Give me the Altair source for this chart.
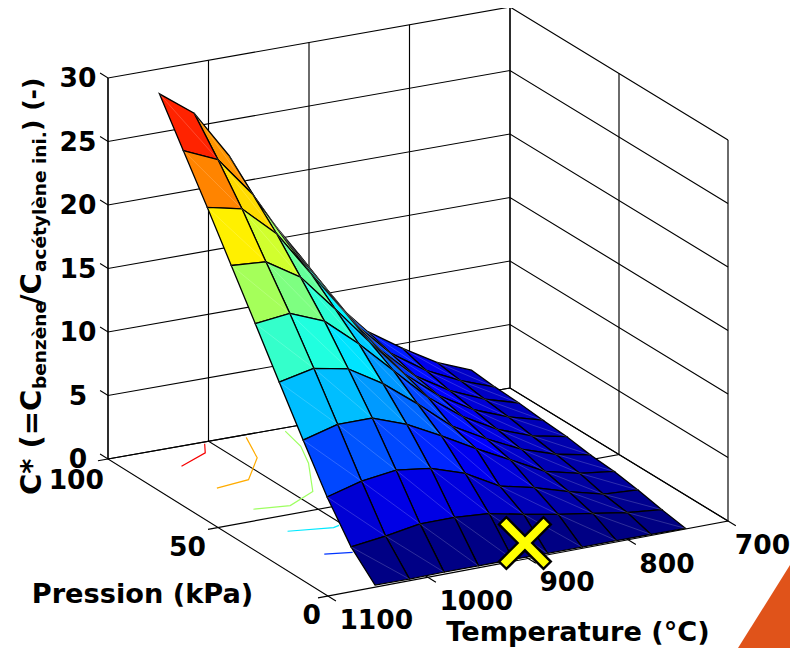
import altair as alt

# Grid of the surface
T_VALUES = [1053, 1018.5, 984, 949.5, 915, 880.5, 846, 811.5, 777, 742.5]
P_VALUES = [0, 10.9, 21.8, 32.7, 43.6, 54.5, 65.4, 76.3, 87.2, 98.1]
# C* per pressure row (index j) along temperature (index i)
C_P0 = [0.17, 0.13, 0.17, 0.15, 0.15, 0.12, 0.1, 0.1, 0.08, 0.05]
C_P1 = [2.0, 2.35, 2.8, 2.8, 2.6, 2.03, 1.52, 1.09, 0.65, 0.38]
C_P2 = [4.76, 5.5, 5.86, 5.5, 4.6, 3.1, 2.47, 1.65, 0.95, 0.78]
C_P3 = [8.07, 8.8, 8.8, 7.8, 6.4, 4.9, 3.5, 2.1, 1.45, 1.1]
C_P4 = [11.46, 12.05, 11.5, 9.85, 7.76, 5.5, 4.0, 2.7, 1.8, 1.25]
C_P5 = [14.9, 15.2, 14.1, 11.8, 9.2, 6.6, 4.6, 3.1, 2.1, 1.55]
C_P6 = [18.3, 18.1, 16.4, 13.4, 10.3, 7.3, 5.1, 3.5, 2.45, 1.7]
C_P7 = [21.7, 21.1, 18.65, 15.0, 11.4, 8.0, 5.5, 3.85, 2.7, 1.9]
C_P8 = [25.0, 23.8, 20.6, 16.3, 12.6, 8.8, 6.1, 4.3, 3.0, 2.0]
C_P9 = [28.3, 26.3, 22.5, 17.6, 13.8, 9.6, 6.7, 4.9, 3.3, 2.2]
C_ROWS = [C_P0, C_P1, C_P2, C_P3, C_P4, C_P5, C_P6, C_P7, C_P8, C_P9]

# Floor contours: level, temperatures, pressures
LEVELS = [25, 20, 15, 10, 5]
CONTOUR_T = [
    [1052, 1017, 1006],
    [1052, 1017, 983, 966],
    [1050, 1017, 982, 950, 935, 928],
    [1051, 1011, 1004],
    [1051, 1027],
]
CONTOUR_P = [
    [88.5, 93.7, 99],
    [72.4, 74, 85.6, 98.4],
    [56.7, 55, 60.7, 77.3, 87.7, 98],
    [40.7, 38, 38.7],
    [24, 22],
]

T_TICKS = [1100, 1000, 900, 800, 700]
P_TICKS = [0, 50, 100]
C_TICKS = [0, 5, 10, 15, 20, 25, 30]
MARKER = (900, 1.4, 1.07)

C_MAX = 28.3
JET_POS = [0, 0.125, 0.375, 0.625, 0.875, 1]
JET_COL = ["#000080", "#0000ff", "#00ffff", "#ffff00", "#ff0000", "#800000"]
jet = alt.Scale(domain=[p * C_MAX for p in JET_POS], range=JET_COL, interpolate="rgb")


def project(t, p, c=0):
    """3D view: (temperature, pressure, C*) to drawing units."""
    u = (1100 - t) / 400
    v = p / 100
    x = 320 + 400 * u - 220 * v + 2 * u * v
    y = 588 - 75 * u - 137 * v + 4 * u * v - (381 / 30) * c
    return [x, y]


def feature(kind, coords, **props):
    return {"type": "Feature", "properties": props,
            "geometry": {"type": kind, "coordinates": coords}}


def line(*pts):
    return feature("LineString", [project(*q) for q in pts])


PROJ = dict(type="identity", scale=1, translate=[0, 0])

# Box, walls and floor
grid = []
for c in C_TICKS:
    grid.append(line((1100, 103.6, c), (1100, 100, c), (700, 100, c), (700, 0, c)))
for t in T_TICKS:
    grid.append(line((t, -3.6, 0), (t, 100, 0), (t, 100, 30)))
for p in P_TICKS:
    grid.append(line((1110, p, 0), (700, p, 0), (700, p, 30)))
grid.append(line((1100, 100, 0), (1100, 100, 30)))

contours = []
for lev, ts, ps in zip(LEVELS, CONTOUR_T, CONTOUR_P):
    contours.append(feature("LineString", [project(t, p) for t, p in zip(ts, ps)], level=lev))

cells, diagonals = [], []
for j in range(8, -1, -1):
    for i in range(8, -1, -1):
        a = project(T_VALUES[i], P_VALUES[j], C_ROWS[j][i])
        b = project(T_VALUES[i + 1], P_VALUES[j], C_ROWS[j][i + 1])
        d = project(T_VALUES[i + 1], P_VALUES[j + 1], C_ROWS[j + 1][i + 1])
        e = project(T_VALUES[i], P_VALUES[j + 1], C_ROWS[j + 1][i])
        cells.append(feature("Polygon", [[a, b, d, e, a]], c=C_ROWS[j][i + 1]))
        diagonals.append(feature("LineString", [e, b]))

grid_layer = alt.Chart(alt.Data(values=grid)).mark_geoshape(
    filled=False, stroke="black", strokeWidth=1.15).project(**PROJ)
contour_layer = alt.Chart(alt.Data(values=contours)).mark_geoshape(
    filled=False, strokeWidth=1.2).encode(
    stroke=alt.Stroke("properties.level:Q", scale=jet, legend=None)).project(**PROJ)
surface_layer = alt.Chart(alt.Data(values=cells)).mark_geoshape(
    stroke="black", strokeWidth=1.3).encode(
    fill=alt.Fill("properties.c:Q", scale=jet, legend=None)).project(**PROJ)
diag_layer = alt.Chart(alt.Data(values=diagonals)).mark_geoshape(
    filled=False, stroke="white", strokeWidth=0.6, opacity=0.3).project(**PROJ)

mx, my = project(*MARKER)
X_SHAPE = "M-0.78,-0.56 L-0.56,-0.78 L0,-0.22 L0.56,-0.78 L0.78,-0.56 L0.22,0 L0.78,0.56 L0.56,0.78 L0,0.22 L-0.56,0.78 L-0.78,0.56 L-0.22,0 Z"
marker_layer = alt.Chart(alt.Data(values=[{"lon": mx, "lat": my}])).mark_point(
    shape=X_SHAPE, size=4400, filled=True, fill="#ffff00", stroke="black",
    strokeWidth=2.4, opacity=1).encode(longitude="lon:Q", latitude="lat:Q").project(**PROJ)

triangle = alt.Chart(alt.Data(values=[feature(
    "Polygon", [[[730, 640], [782, 557], [782, 640], [730, 640]]])])).mark_geoshape(
    fill="#e0531a", strokeWidth=0).project(**PROJ)

FONT = "DejaVu Sans"
TICK_SIZE = 26.5

labels = []
for t, off in zip(T_TICKS, [3.5, 3.5, 3.5, 3.5, -1]):
    x, y = project(t, -3.6, 0)
    labels.append({"lon": x + off, "lat": y + 20, "text": str(t)})
tick_left = alt.Chart(alt.Data(values=labels)).mark_text(
    font=FONT, fontWeight="bold", fontSize=TICK_SIZE, align="left", baseline="middle").encode(
    longitude="lon:Q", latitude="lat:Q", text="text:N").project(**PROJ)

labels = []
for p, off in zip(P_TICKS, [(-7, 20), (-12, 20), (-4, 22)]):
    x, y = project(1100, p, 0)
    labels.append({"lon": x + off[0], "lat": y + off[1], "text": str(p)})
tick_right = alt.Chart(alt.Data(values=labels)).mark_text(
    font=FONT, fontWeight="bold", fontSize=TICK_SIZE, align="right", baseline="middle").encode(
    longitude="lon:Q", latitude="lat:Q", text="text:N").project(**PROJ)

labels = []
for c in C_TICKS:
    x, y = project(1100, 100, c)
    labels.append({"lon": x - 30, "lat": y + 1, "text": str(c)})
tick_c = alt.Chart(alt.Data(values=labels)).mark_text(
    font=FONT, fontWeight="bold", fontSize=TICK_SIZE, align="center", baseline="middle").encode(
    longitude="lon:Q", latitude="lat:Q", text="text:N").project(**PROJ)

titles = alt.Chart(alt.Data(values=[
    {"lon": 134.5, "lat": 587, "text": "Pression (kPa)"},
    {"lon": 570, "lat": 625, "text": "Temperature (°C)"},
])).mark_text(font=FONT, fontWeight="bold", fontSize=27.2, align="center", baseline="middle").encode(
    longitude="lon:Q", latitude="lat:Q", text="text:N").project(**PROJ)

# y title pieces: text, start along the axis, baseline, font size
YLAB_TEXT = ["C* (=C", "benzène", "/C", "acétylène ini.", ") (-)"]
YLAB_START = [487, 381, 297, 264, 123]
YLAB_BASE = [33, 38, 33, 38, 33]
YLAB_SIZE = [29, 18.5, 29, 18.5, 25]
ylab = alt.Chart(alt.Data(values=[
    {"lon": b, "lat": y, "text": s, "fs": f}
    for s, y, b, f in zip(YLAB_TEXT, YLAB_START, YLAB_BASE, YLAB_SIZE)
])).mark_text(
    font=FONT, fontWeight="bold", align="left", baseline="alphabetic", angle=270).encode(
    longitude="lon:Q", latitude="lat:Q", text="text:N",
    size=alt.Size("fs:Q", scale=None, legend=None)).project(**PROJ)

chart = alt.layer(
    grid_layer, contour_layer, surface_layer, diag_layer, marker_layer, triangle,
    tick_left, tick_right, tick_c, titles, ylab,
).properties(
    width=782, height=640, padding=0, autosize=alt.AutoSizeParams(type="none")
).configure_view(stroke=None)

chart.save("out.html", embed_options={"renderer": "svg", "actions": False})
